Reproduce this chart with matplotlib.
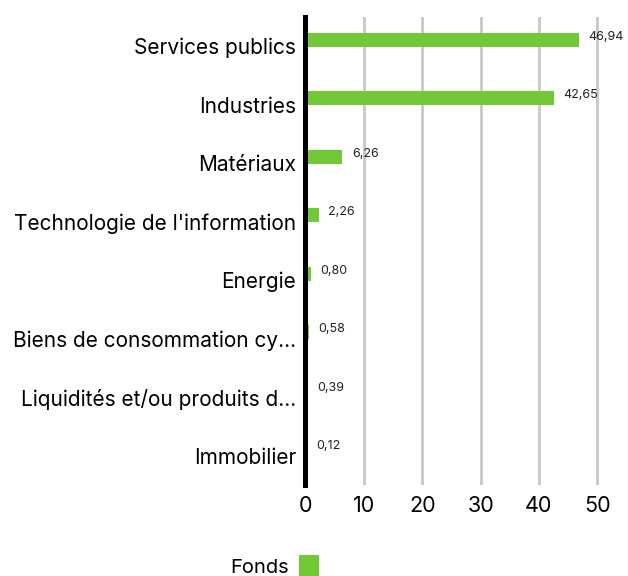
import matplotlib.pyplot as plt
import numpy as np

plt.rcParams["font.family"] = ["Inter", "DejaVu Sans"]

categories = [
    "Services publics",
    "Industries",
    "Matériaux",
    "Technologie de l'information",
    "Energie",
    "Biens de consommation cy...",
    "Liquidités et/ou produits d...",
    "Immobilier",
]
values = [46.94, 42.65, 6.26, 2.26, 0.80, 0.58, 0.39, 0.12]
value_labels = ["46,94", "42,65", "6,26", "2,26", "0,80", "0,58", "0,39", "0,12"]
xticks = [0, 10, 20, 30, 40, 50]

BAR_COLOR = "#72C837"
GRID_COLOR = "#c8c8c8"

fig = plt.figure(figsize=(6.28, 5.76), dpi=100)
ax = fig.add_axes([306 / 628, 1 - 485 / 576, 322 / 628, 468 / 576])

y = np.arange(len(categories))
bar_y = y - 0.11
ax.barh(bar_y, values, height=0.24, color=BAR_COLOR, label="Fonds", zorder=3)

for by, v, lab in zip(bar_y, values, value_labels):
    ax.text(v + 1.6, by - 0.05, lab, ha="left", va="center", fontsize=9, color="#222222")

ax.set_xlim(0, 55.3)
ax.set_ylim(len(categories) - 0.5, -0.5)
ax.set_yticks(y)
ax.set_yticklabels(categories, fontsize=15)
ax.set_xticks(xticks)
ax.set_xticklabels([str(t) for t in xticks], fontsize=15.5)
ax.tick_params(axis="both", length=0)
ax.tick_params(axis="y", pad=7)
ax.tick_params(axis="x", pad=8)

for t in xticks[1:]:
    ax.axvline(t, color=GRID_COLOR, linewidth=2, zorder=1)
# thick baseline, sitting just left of zero so tiny bars still show
ax.axvline(-0.25, color="black", linewidth=3.6, zorder=4, clip_on=False)

for s in ax.spines.values():
    s.set_visible(False)

ax.legend(loc="center", bbox_to_anchor=(275 / 628, 1 - 566 / 576), bbox_transform=fig.transFigure,
          frameon=False, markerfirst=False, fontsize=14.5, handlelength=1.0, handleheight=1.3,
          handletextpad=0.5)

fig.savefig("out.png", dpi=100)
